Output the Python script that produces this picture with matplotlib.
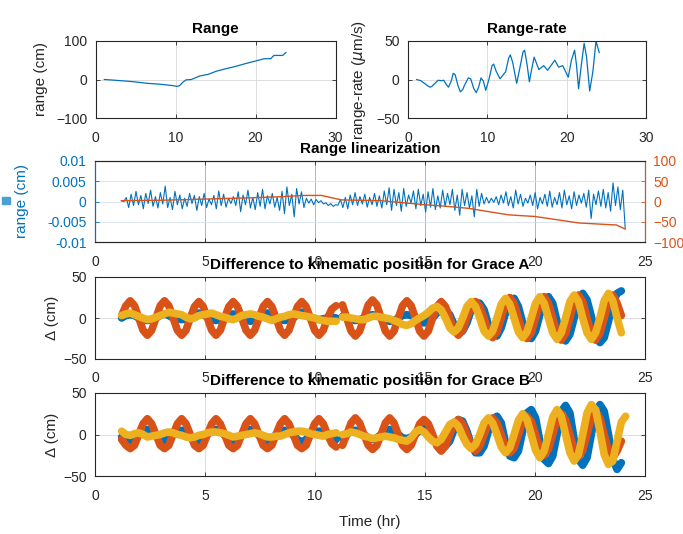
import numpy as np
import matplotlib
matplotlib.use("Agg")
import matplotlib.pyplot as plt
from matplotlib.patches import Rectangle

plt.rcParams['font.family'] = ['Liberation Sans', 'DejaVu Sans']

BLUE = '#0072BD'
ORANGE = '#D95319'
YELLOW = '#EDB120'
AXC = '#262626'

# ---- Range
range_t = [1.1, 2.5, 4.6, 6.5, 8.2, 9.7, 10.2, 10.5, 10.9, 11.3, 12.0, 13.0, 14.1, 15.1,
           16.2, 17.5, 18.7, 20.0, 21.1, 21.9, 22.3, 23.4, 23.8]
range_v = [0, -2, -5.5, -10, -12.5, -16, -18, -16, -7.5, -1, 0, 9, 13.5, 21.5,
           27.5, 34, 41, 48, 54, 54, 62.5, 62.5, 70]

# ---- Range-rate
rr_t = [1.1, 1.6, 2.2, 2.6, 2.8, 3.0, 3.3, 3.8, 4.2, 4.5, 4.8, 5.1, 5.45, 5.7, 5.95, 6.3,
        6.6, 6.9, 7.1, 7.6, 7.9, 8.3, 8.6, 8.9, 9.2, 9.5, 9.8, 10.2, 10.6, 10.8, 11.1,
        11.6, 12.3, 12.7, 12.9, 13.2, 13.7, 14.1, 14.5, 14.7, 15.0, 15.3, 15.6, 15.9,
        16.5, 17.1, 17.6, 18.5, 19.0, 19.5, 20.2, 20.6, 21.0, 21.25, 21.5, 21.8, 22.2,
        22.5, 22.9, 23.3, 23.7, 24.1]
rr_v = [0, -1.5, -6, -9, -10, -9, -6, -1, -1.5, -1, -6, -10, -2, 8, 6, -8,
        -16, -13, -8, 2, 1, -12, -17, -10, 2, -2, -14, 0, 18, 20, 11,
        1, 10, 28, 32, 22, -5, 15, 36, 38, 20, -3, 14, 29,
        13, 18, 12, 25, 16, 18, 3, 25, 38, 18, -12, 15, 47,
        30, -15, 10, 50, 35]

# ---- Range linearization (blue in 1e-3 cm on the left axis, orange on the right axis)
lin_blue_mcm = [
    0.2, 0.0, 1.0, -1.5, 1.8, -1.0, 2.5, -0.8, 1.5, -1.8, 2.0, -0.5, 2.8, -1.2, 1.2, -1.6,
    2.2, -0.6, 3.8, -1.5, 1.0, -2.0, 2.5, -0.8, 1.6, -1.8, 0.8, -1.2, 2.0, -0.5, 1.5, -2.2,
    1.2, -1.0, 2.0, -1.5, 0.6, -0.8, 1.5, -1.8, 2.6, -1.0, 1.8, -1.4, 0.8, -0.5, 1.2, -1.0,
    2.4, -2.5, 1.6, -0.8, 2.8, -1.6, 1.0, -2.0, 2.2, -1.2, 3.0, -1.8, 1.4, -0.6, 2.0, -1.4,
    1.0, -2.2, 2.5, -3.0, 3.6, -1.0, 1.8, -3.8, 3.2, -0.6, 2.4, -1.5, 0.8, -0.4, 0.6, -0.8,
    0.5, -0.3, 0.2, -0.6, -0.3, -1.0, -0.5, -1.2, -0.8, -0.9, 0.5, -1.5, 1.0, -1.8, 1.6, -0.8,
    2.2, -1.0, 1.2, -0.6, 1.8, -1.4, 1.0, -0.8, 2.0, -1.2, 1.4, -1.6, 2.6, -0.8, 3.4, -2.2,
    3.0, -1.0, 2.2, -2.4, 3.2, -1.2, 1.6, -0.4, 2.6, -1.8, 3.0, -1.0, 1.8, -2.6, 2.4, -1.4,
    3.2, -2.0, 1.4, -1.6, 2.8, -1.2, 2.0, -0.8, 3.0, -2.2, 1.6, -3.4, 3.0, -1.0, 2.2, -1.6,
    1.4, -3.8, 3.0, -1.2, 2.0, -0.6, 1.0, -0.4, 0.8, -0.2, 1.2, -0.8, 1.6, -0.4, 2.4, -1.0,
    1.2, -1.6, 2.8, -0.6, 1.8, -1.2, 0.8, -0.4, 1.6, -1.0, 2.2, -1.8, 1.0, -0.6, 1.8, -1.2,
    2.6, -1.4, 1.0, -0.8, 2.2, -1.6, 2.8, -0.8, 1.4, -1.8, 2.4, -1.0, 1.6, -0.4, 2.0, -1.4,
    2.8, -4.2, 1.8, -0.8, 2.6, -1.2, 3.0, -1.6, 2.2, -2.4, 4.6, -1.0, 3.6, -2.0, 2.8, -6.6]
lin_orange_t = [1.2, 3, 5, 7, 8.5, 9.5, 10.3, 10.7, 11.2, 12, 13, 14, 15, 16, 17, 18,
                18.8, 20, 21, 22, 23, 23.7, 24.1]
lin_orange_v = [2, 3, 6, 9, 12, 15, 15, 10, 4, 3, 2, -3, -8, -12, -17, -26,
                -33, -37, -45, -53, -56, -58, -68]

# ---- Kinematic differences, sampled every 0.195 hr; two arcs: 1.21-10.96 hr and from 11.25 hr
seg1_start, seg2_start, step = 1.21, 11.25, 0.195

a_orange_1 = [3, 15, 21, 15, 0, -15, -21, -15,
              0, 15, 21, 15, 0, -15, -21, -15,
              0, 14, 20, 14, 0, -15, -21, -15,
              0, 14, 20, 14, 0, -15, -21, -15,
              0, 14, 20, 14, 0, -15, -21, -15,
              0, 14, 20, 14, 0, -15, -21, -15,
              0, 11, 15]
a_orange_2 = [16, 0, -16, -22, -16, 0, 16, 22,
              16, 0, -16, -22, -16, 0, 15, 21,
              15, 0, -16, -22, -16, 0, 14, 20,
              14, 0, -15, -21, -15, 0, 14, 20,
              14, 0, -17, -24, -17, 0, 18, 25,
              18, 0, -18, -25, -18, 0, 18, 26,
              18, 0, -19, -27, -19, 0, 20, 28,
              20, 0, -19, -27, -19, 0, 20, 28,
              18, 3]
a_blue_1 = [0, 3, 4, 3, 0, -2, -3, -2,
            0, 3, 5, 3, 0, -1, -2, -1,
            1, 4, 6, 4, 1, -2, -3, -2,
            0, 3, 5, 3, 0, -2, -4, -2,
            0, 4, 6, 4, 0, -2, -3, -2,
            0, 4, 7, 4, 0, -1, -2, -1,
            0, 1, 0]
a_blue_2 = [2, 0, -2, -3, -2, 0, 3, 4,
            3, 0, -3, -4, -3, 0, 3, 4,
            3, 0, -4, -6, -4, 0, 6, 10,
            9, 4, -8, -18, -16, -6, 10, 19,
            18, 10, -8, -20, -22, -12, 6, 22,
            24, 14, -6, -22, -25, -16, 4, 22,
            26, 18, -4, -22, -28, -20, 0, 20,
            30, 22, 2, -22, -30, -24, -4, 18,
            30, 33]
a_yellow_1 = [3, 5, 6, 4, 2, 0, -2, -1,
              1, 3, 5, 7, 6, 5, 4, 1,
              -1, 0, 3, 4, 5, 6, 4, 2,
              1, -1, -2, 0, 3, 4, 5, 4,
              2, 1, -1, -3, -1, 1, 2, 4,
              5, 4, 3, 2, 1, 0, -2, -3,
              -4, -4, -4]
a_yellow_2 = [1, 1, 0, -1, -2, -2, 0, 2,
              2, 1, 0, -1, -3, -5, -8, -9,
              -7, -3, 0, 3, 7, 12, 14, 10,
              0, -12, -17, -12, 0, 14, 20, 14,
              0, -16, -22, -16, 0, 17, 24, 17,
              0, -17, -24, -17, 0, 18, 26, 18,
              0, -18, -26, -18, 0, 20, 28, 20,
              0, -18, -26, -18, 0, 21, 30, 21,
              0, -18]

b_orange_1 = [-6, -13, -17, -13, 0, 13, 19, 13,
              0, -13, -17, -13, 0, 13, 19, 13,
              0, -13, -17, -13, 0, 13, 19, 13,
              0, -13, -17, -13, 0, 13, 19, 13,
              0, -13, -17, -13, 0, 13, 19, 13,
              0, -13, -17, -13, 0, 13, 19, 13,
              0, -11, -15]
b_orange_2 = [-13, 0, 14, 20, 14, 0, -13, -18,
              -13, 0, 14, 20, 14, 0, -13, -18,
              -13, 0, 13, 18, 13, 0, -14, -20,
              -14, 0, 13, 18, 13, 0, -14, -20,
              -14, 0, 14, 20, 14, 0, -16, -22,
              -16, 0, 16, 22, 16, 0, -18, -25,
              -18, 0, 18, 25, 18, 0, -19, -27,
              -19, 0, 20, 28, 20, 0, -20, -28,
              -20, -8]
b_blue_1 = [-3, -5, -8, -5, 0, 4, 6, 4,
            -1, -5, -8, -5, 0, 4, 5, 4,
            -1, -6, -9, -6, 0, 4, 6, 4,
            -1, -5, -8, -5, 0, 4, 6, 4,
            -1, -5, -8, -5, 0, 4, 5, 3,
            -1, -6, -9, -6, 0, 3, 4, 3,
            -1, -4, -6]
b_blue_2 = [-4, 0, 4, 5, 4, 0, -4, -6,
            -4, 0, 4, 6, 4, 0, -4, -5,
            -3, 0, 5, 8, 4, -3, -10, -15,
            -14, -8, 6, 18, 16, 4, -12, -22,
            -22, -14, 4, 18, 22, 14, -10, -26,
            -28, -20, 4, 26, 30, 20, -8, -30,
            -35, -26, 0, 28, 35, 26, -6, -30,
            -37, -28, 0, 28, 36, 28, 0, -30,
            -42, -34]
b_yellow_1 = [4, 0, -1, 1, 2, 0, -3, -2,
              -1, 0, 2, 3, 2, 0, -1, -3,
              -4, -3, -1, 0, 2, 3, 3, 2,
              1, -1, -3, -2, -1, 0, 1, 2,
              1, -1, -3, -3, -2, -2, 0, 2,
              3, 4, 4, 3, 1, 0, -1, -2,
              0, 1, 2]
b_yellow_2 = [0, 1, 3, 2, 0, -2, -3, -5,
              -4, -3, -2, -3, -4, -6, -7, -8,
              -4, 3, 6, 3, -3, -8, -10, -6,
              3, 12, 15, 10, -2, -12, -17, -12,
              0, 14, 20, 14, 0, -15, -22, -16,
              0, 17, 25, 18, 0, -19, -28, -20,
              0, 21, 30, 22, 0, -22, -32, -24,
              0, 26, 36, 30, 4, -24, -36, -32,
              -8, 15, 22]

W, H = 683, 534
fig = plt.figure(figsize=(W / 100, H / 100), dpi=100)


def box(l, t, r, b):
    return [l / W, 1 - b / H, (r - l) / W, (b - t) / H]


def style(ax):
    ax.tick_params(direction='in', top=True, right=True, labelsize=10,
                   colors=AXC, pad=6, length=3, width=0.6)
    ax.tick_params(axis='x', pad=9)
    for s in ax.spines.values():
        s.set_color(AXC)
        s.set_linewidth(0.8)
    ax.grid(True, color='#d8d8d8', lw=0.6)
    ax.set_axisbelow(True)


def arcs(v1, v2):
    # join the two arcs with a gap (NaN) between them
    t1 = seg1_start + step * np.arange(len(v1))
    t2 = seg2_start + step * np.arange(len(v2))
    t = np.concatenate([t1, [np.nan], t2])
    v = np.concatenate([v1, [np.nan], v2])
    return t, v


# Range
ax1 = fig.add_axes(box(95.5, 41, 335.5, 118))
ax1.plot(range_t, range_v, color=BLUE, lw=0.9)
ax1.set_xlim(0, 30)
ax1.set_ylim(-100, 100)
ax1.set_xticks([0, 10, 20, 30])
ax1.set_yticks([-100, 0, 100])
style(ax1)
ax1.set_title('Range', fontsize=11, fontweight='bold', pad=6)
ax1.set_ylabel('range (cm)', fontsize=11, color=AXC)
ax1.yaxis.set_label_coords(-0.2, 0.5)

# Range-rate
ax2 = fig.add_axes(box(408, 41, 646, 118))
ax2.plot(rr_t, rr_v, color=BLUE, lw=0.9)
ax2.set_xlim(0, 30)
ax2.set_ylim(-50, 50)
ax2.set_xticks([0, 10, 20, 30])
ax2.set_yticks([-50, 0, 50])
style(ax2)
ax2.set_title('Range-rate', fontsize=11, fontweight='bold', pad=6)
ax2.set_ylabel(r'range-rate ($\mu$m/s)', fontsize=11, color=AXC)
ax2.yaxis.set_label_coords(-0.17, 0.5)

# Range linearization
ax3 = fig.add_axes(box(95, 161, 645, 242))
lin_t = np.linspace(1.2, 24.1, len(lin_blue_mcm))
ax3.plot(lin_t, np.array(lin_blue_mcm) * 1e-3, color=BLUE, lw=0.8)
ax3.set_xlim(0, 25)
ax3.set_ylim(-0.01, 0.01)
ax3.set_yticks([-0.01, -0.005, 0, 0.005, 0.01])
ax3.set_yticklabels(['-0.01', '-0.005', '0', '0.005', '0.01'])
style(ax3)
ax3.tick_params(axis='y', colors=BLUE, right=False)
ax3.grid(False)
ax3.grid(True, axis='y', color='#d6e2ee', lw=0.6)
ax3.grid(True, axis='x', color='#b4b4b4', lw=0.7)
ax3.set_title('Range linearization', fontsize=11, fontweight='bold', pad=6)
ax3.set_ylabel('range (cm)', fontsize=11, color=BLUE)
ax3.yaxis.set_label_coords(-0.12, 0.5)
ax3r = ax3.twinx()
ax3r.plot(lin_orange_t, lin_orange_v, color=ORANGE, lw=1.0)
ax3r.set_ylim(-100, 100)
ax3r.set_yticks([-100, -50, 0, 50, 100])
ax3r.tick_params(direction='in', labelsize=10, colors=ORANGE, pad=6, length=3, width=0.6)
for s in ax3r.spines.values():
    s.set_color(AXC)
    s.set_linewidth(0.8)
ax3r.spines['right'].set_color(ORANGE)
ax3r.spines['left'].set_color(BLUE)


def grace(box_px, blue, orange, yellow, title):
    ax = fig.add_axes(box(*box_px))
    for (v1, v2), c in zip([blue, orange, yellow], [BLUE, ORANGE, YELLOW]):
        t, v = arcs(v1, v2)
        ax.plot(t, v, color=c, lw=5.5, solid_capstyle='round', solid_joinstyle='round')
    ax.set_xlim(0, 25)
    ax.set_ylim(-50, 50)
    ax.set_xticks([0, 5, 10, 15, 20, 25])
    ax.set_yticks([-50, 0, 50])
    style(ax)
    ax.set_title(title, fontsize=11, fontweight='bold', pad=6)
    ax.set_ylabel('\u0394 (cm)', fontsize=11, color=AXC)
    ax.yaxis.set_label_coords(-0.065, 0.5)
    return ax


ax4 = grace((95, 277, 645, 359), (a_blue_1, a_blue_2), (a_orange_1, a_orange_2),
            (a_yellow_1, a_yellow_2), 'Difference to kinematic position for Grace A')
ax5 = grace((95, 393, 645, 476), (b_blue_1, b_blue_2), (b_orange_1, b_orange_2),
            (b_yellow_1, b_yellow_2), 'Difference to kinematic position for Grace B')
ax5.set_xlabel('Time (hr)', fontsize=11, color=AXC, labelpad=9)

fig.patches.append(Rectangle((2 / W, 1 - 204 / H), 8 / W, 7 / H,
                             transform=fig.transFigure, color='#4a9fd4'))

fig.savefig('out.png', dpi=100)
